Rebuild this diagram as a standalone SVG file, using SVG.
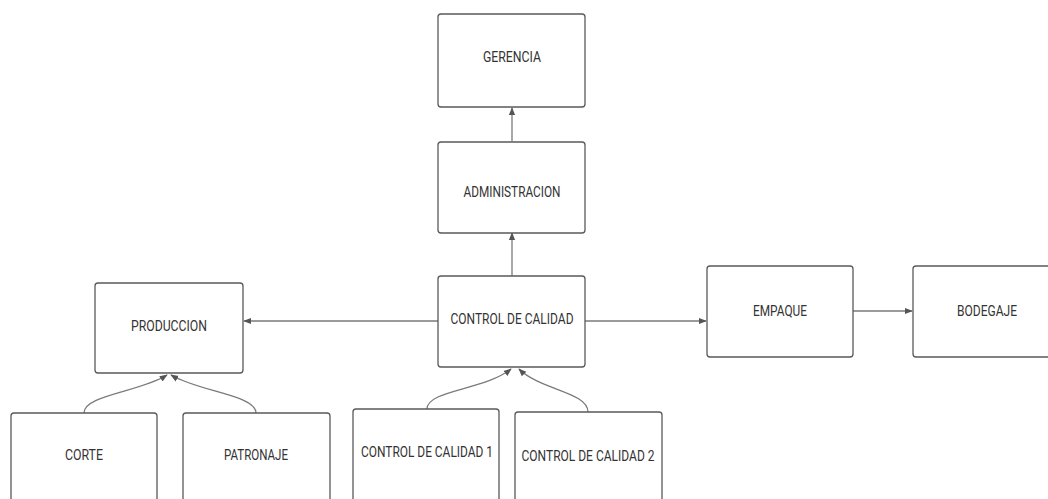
<svg xmlns="http://www.w3.org/2000/svg" width="1048" height="499" viewBox="0 0 1048 499">
<style>
.box{fill:#fff;stroke:#5a5a5a;stroke-width:1.3}
.lbl{font-family:Roboto,"Liberation Sans",sans-serif;font-size:14.5px;fill:#333;text-anchor:middle}
.ln{fill:none;stroke:#7a7a7a;stroke-width:1.3}
</style>
<defs>
<marker id="ah" viewBox="0 0 10 10" refX="9" refY="5" markerWidth="8" markerHeight="8" markerUnits="userSpaceOnUse" orient="auto">
<path d="M0,1 L10,5 L0,9 z" fill="#555"/>
</marker>
</defs>
<rect width="1048" height="499" fill="#fff"/>
<g id="connectors">
<path class="ln" marker-end="url(#ah)" d="M512,141 L512,108"/>
<path class="ln" marker-end="url(#ah)" d="M512,276 L512,233"/>
<path class="ln" marker-end="url(#ah)" d="M438,321 L244,321"/>
<path class="ln" marker-end="url(#ah)" d="M585,321 L706,321"/>
<path class="ln" marker-end="url(#ah)" d="M853,311 L912,311"/>
<path class="ln" marker-end="url(#ah)" d="M84,413 C84,395 140,392 167,375"/>
<path class="ln" marker-end="url(#ah)" d="M256,413 C256,395 200,392 171,375"/>
<path class="ln" marker-end="url(#ah)" d="M427,409 C427,390 485,390 511,369"/>
<path class="ln" marker-end="url(#ah)" d="M588,412 C588,392 540,390 519,369"/>
</g>
<g id="gerencia"><rect class="box" x="438" y="14" width="147" height="93" rx="3"/><text class="lbl" x="512" y="62" textLength="58" lengthAdjust="spacingAndGlyphs">GERENCIA</text></g>
<g id="administracion"><rect class="box" x="438" y="142" width="147" height="91" rx="3"/><text class="lbl" x="512" y="197" textLength="97" lengthAdjust="spacingAndGlyphs">ADMINISTRACION</text></g>
<g id="control-calidad"><rect class="box" x="438" y="276" width="147" height="91" rx="3"/><text class="lbl" x="512" y="324" textLength="123" lengthAdjust="spacingAndGlyphs">CONTROL DE CALIDAD</text></g>
<g id="produccion"><rect class="box" x="95" y="283" width="148" height="90" rx="3"/><text class="lbl" x="169" y="331" textLength="76" lengthAdjust="spacingAndGlyphs">PRODUCCION</text></g>
<g id="empaque"><rect class="box" x="707" y="266" width="146" height="91" rx="3"/><text class="lbl" x="780" y="316" textLength="54" lengthAdjust="spacingAndGlyphs">EMPAQUE</text></g>
<g id="bodegaje"><rect class="box" x="913" y="266" width="147" height="91" rx="3"/><text class="lbl" x="987" y="316" textLength="60" lengthAdjust="spacingAndGlyphs">BODEGAJE</text></g>
<g id="corte"><rect class="box" x="11" y="413" width="146" height="100" rx="3"/><text class="lbl" x="84" y="460" textLength="38" lengthAdjust="spacingAndGlyphs">CORTE</text></g>
<g id="patronaje"><rect class="box" x="183" y="413" width="147" height="100" rx="3"/><text class="lbl" x="256" y="460" textLength="64" lengthAdjust="spacingAndGlyphs">PATRONAJE</text></g>
<g id="control-calidad-1"><rect class="box" x="353" y="409" width="146" height="100" rx="3"/><text class="lbl" x="427" y="457" textLength="132" lengthAdjust="spacingAndGlyphs">CONTROL DE CALIDAD 1</text></g>
<g id="control-calidad-2"><rect class="box" x="515" y="412" width="147" height="100" rx="3"/><text class="lbl" x="588" y="461" textLength="133" lengthAdjust="spacingAndGlyphs">CONTROL DE CALIDAD 2</text></g>
</svg>
